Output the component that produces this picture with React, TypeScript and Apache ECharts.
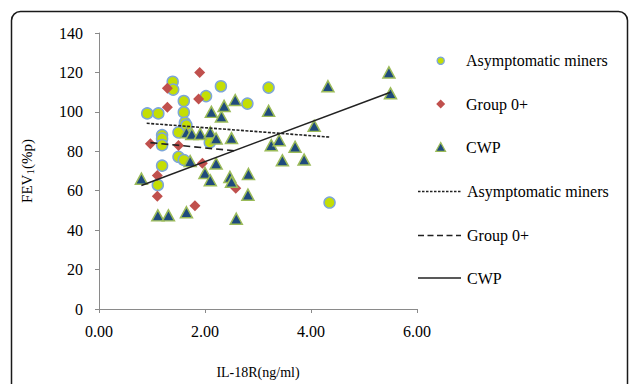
import React, { useEffect, useRef } from "react";
import * as echarts from "echarts";

const asymptomatic: [number, number][] = [
  [0.91, 99.2], [1.12, 99.2], [1.39, 115.3], [1.4, 111.3], [2.3, 113], [2.02, 108],
  [1.6, 105.5], [1.6, 99.8], [1.62, 94.5], [1.65, 93.2], [1.5, 89.6], [1.19, 88.2],
  [1.19, 86.4], [1.19, 83.1], [2.09, 84.5], [1.5, 77.2], [1.6, 75.6], [1.19, 72.7],
  [1.11, 62.9], [3.2, 112.3], [2.8, 104.2], [4.35, 54],
];

const group0: [number, number][] = [
  [1.9, 120], [1.29, 112], [1.88, 106.5], [1.29, 102.4], [0.97, 83.8], [1.5, 82.9],
  [1.95, 73.9], [1.1, 67.7], [1.1, 57.2], [1.81, 52.4], [2.58, 61.3],
];

const cwp: [number, number][] = [
  [0.8, 66.1], [1.11, 47.5], [1.31, 47.5], [1.65, 49.1], [1.65, 89.6], [1.75, 88.8],
  [1.91, 88.8], [2.1, 89.6], [1.72, 75], [2.21, 73.8], [2.0, 69], [2.1, 65.3],
  [2.12, 100], [2.31, 97.6], [2.36, 103], [2.57, 106], [2.21, 86.5], [2.5, 86.7],
  [2.47, 67], [2.5, 64.5], [2.59, 45.8], [2.82, 68.5], [2.81, 58], [3.2, 100.5],
  [3.25, 83.1], [3.4, 85.6], [3.46, 75.4], [3.7, 82.3], [3.87, 75.8], [4.06, 92.9],
  [4.32, 113], [5.47, 120], [5.5, 109.4],
];

const trendAsymptomatic: [number, number][] = [[0.9, 94.2], [4.35, 87.2]];
const trendGroup0: [number, number][] = [[0.97, 84.4], [2.58, 80.2]];
const trendCwp: [number, number][] = [[0.8, 62.7], [5.5, 110]];

const legendNames = ["Asymptomatic miners", "Group 0+", "CWP"];

const SERIF = "Liberation Serif, serif";
const CIRCLE_FILL = "#c4de04";
const CIRCLE_STROKE = "#7da6d8";
const DIAMOND_FILL = "#c0504d";
const TRI_FILL = "#1f4a7d";
const TRI_STROKE = "#9bbb59";
const AXIS_COLOR = "#8a8a8a";

export default function App() {
  const ref = useRef<HTMLDivElement>(null);

  useEffect(() => {
    if (!ref.current) return;
    const chart = echarts.init(ref.current, undefined, { renderer: "svg" });
    const lx1 = 418;
    const lx2 = 461;
    const tx = 466;
    const rows = [60.7, 104, 147.3, 191.5, 235.5, 278];

    chart.setOption({
      animation: false,
      backgroundColor: "#ffffff",
      textStyle: { fontFamily: SERIF },
      grid: { left: 99, top: 33, width: 318, height: 288 },
      xAxis: {
        type: "value",
        min: 0,
        max: 6,
        interval: 2,
        name: "IL-18R(ng/ml)",
        nameLocation: "middle",
        nameGap: 56,
        nameTextStyle: { fontFamily: SERIF, fontSize: 14, color: "#000" },
        splitLine: { show: false },
        axisLine: { show: true, onZero: false, lineStyle: { color: AXIS_COLOR, width: 1 } },
        axisTick: { show: true, length: 4, lineStyle: { color: AXIS_COLOR } },
        axisLabel: {
          margin: 14,
          fontFamily: SERIF,
          fontSize: 16,
          color: "#000",
          formatter: (v: number) => v.toFixed(2),
        },
      },
      yAxis: {
        type: "value",
        min: 0,
        max: 140,
        interval: 20,
        name: "FEV{sub|1}(%p)",
        nameLocation: "middle",
        nameGap: 64,
        nameRotate: 90,
        nameTextStyle: {
          fontFamily: SERIF,
          fontSize: 15,
          color: "#000",
          rich: {
            sub: { fontFamily: SERIF, fontSize: 11, color: "#000", padding: [6, 0, 0, 0] },
          },
        },
        splitLine: { show: false },
        axisLine: { show: true, onZero: false, lineStyle: { color: AXIS_COLOR, width: 1 } },
        axisTick: { show: true, length: 4, lineStyle: { color: AXIS_COLOR } },
        axisLabel: { margin: 16, fontFamily: SERIF, fontSize: 16, color: "#000" },
      },
      series: [
        {
          name: legendNames[0],
          type: "scatter",
          data: asymptomatic,
          symbol: "circle",
          symbolSize: 11,
          itemStyle: { color: CIRCLE_FILL, borderColor: CIRCLE_STROKE, borderWidth: 1.5, opacity: 1 },
        },
        {
          name: legendNames[1],
          type: "scatter",
          data: group0,
          symbol: "diamond",
          symbolSize: 11,
          itemStyle: { color: DIAMOND_FILL, opacity: 1 },
        },
        {
          name: legendNames[2],
          type: "scatter",
          data: cwp,
          symbol: "triangle",
          symbolSize: [12, 11],
          itemStyle: { color: TRI_FILL, borderColor: TRI_STROKE, borderWidth: 1.5, opacity: 1 },
        },
        {
          name: "trend-asym",
          type: "line",
          data: trendAsymptomatic,
          symbol: "none",
          lineStyle: { color: "#222", width: 1.6, type: [3, 1.5] },
        },
        {
          name: "trend-group",
          type: "line",
          data: trendGroup0,
          symbol: "none",
          lineStyle: { color: "#222", width: 1.6, type: [7, 4] },
        },
        {
          name: "trend-cwp",
          type: "line",
          data: trendCwp,
          symbol: "none",
          lineStyle: { color: "#222", width: 1.6 },
        },
      ],
      graphic: [
        {
          type: "rect",
          shape: { x: 11.5, y: 11.5, width: 616, height: 430, r: 9 },
          style: { fill: "none", stroke: "#1a1a1a", lineWidth: 1.5 },
          silent: true,
        },
        {
          type: "circle",
          shape: { cx: 440.7, cy: rows[0], r: 3.6 },
          style: { fill: CIRCLE_FILL, stroke: CIRCLE_STROKE, lineWidth: 1.3 },
        },
        {
          type: "polygon",
          shape: {
            points: [
              [440.7, rows[1] - 4.5], [445.2, rows[1]], [440.7, rows[1] + 4.5], [436.2, rows[1]],
            ],
          },
          style: { fill: DIAMOND_FILL },
        },
        {
          type: "polygon",
          shape: {
            points: [
              [440.7, rows[2] - 4.8], [445.5, rows[2] + 4], [435.9, rows[2] + 4],
            ],
          },
          style: { fill: TRI_FILL, stroke: TRI_STROKE, lineWidth: 1.3 },
        },
        {
          type: "line",
          shape: { x1: lx1, y1: rows[3], x2: lx2, y2: rows[3] },
          style: { stroke: "#222", lineWidth: 1.3, lineDash: [2.5, 1.5] },
        },
        {
          type: "line",
          shape: { x1: lx1, y1: rows[4], x2: lx2, y2: rows[4] },
          style: { stroke: "#222", lineWidth: 1.3, lineDash: [6, 3.5] },
        },
        {
          type: "line",
          shape: { x1: lx1, y1: rows[5], x2: lx2, y2: rows[5] },
          style: { stroke: "#222", lineWidth: 1.3 },
        },
        ...[0, 1, 2, 0, 1, 2].map((k, i) => ({
          type: "text",
          x: i < 3 ? tx : tx + 1,
          y: rows[i],
          style: {
            text: legendNames[k],
            fontFamily: SERIF,
            fontSize: 16,
            fill: "#000",
            align: "left",
            verticalAlign: "middle",
          },
        })),
      ],
    });

    return () => chart.dispose();
  }, []);

  return (
    <div
      ref={ref}
      style={{ position: "fixed", left: 0, top: 0, width: 630, height: 384, background: "#fff" }}
    />
  );
}
